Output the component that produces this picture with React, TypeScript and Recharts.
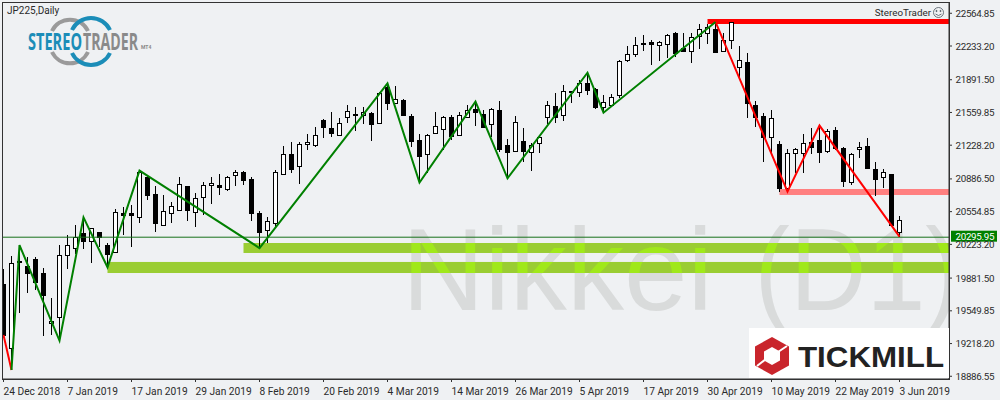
import { Bar, ComposedChart, Line, ReferenceArea, ReferenceLine, XAxis, YAxis } from "recharts";

const opens = [
  19823, 19170, 20058, 20004, 20071, 19930, 19424, 19484, 20113, 20183, 20334, 20254, 20344, 20216, 20143, 20538,
  20538, 20497, 20909, 20730, 20422, 20538, 20568, 20812, 20555, 20700, 20822, 20822, 20781, 20923, 20954, 20883,
  20538, 20366, 20444, 20933, 21136, 21014, 21237, 21234, 21484, 21400, 21335, 21517, 21540, 21530, 21550, 21457,
  21821, 21653, 21686, 21524, 21278, 21143, 21355, 21397, 21514, 21335, 21517, 21595, 21544, 21447, 21582, 21227,
  21174, 21272, 21157, 21247, 21517, 21622, 21530, 21774, 21763, 21861, 21794, 21612, 21638, 21733, 22089, 22149,
  22264, 22275, 22240, 22250, 22362, 22213, 22180, 22335, 22368, 22402, 22187, 22291, 22025, 22072, 21632, 21524,
  21308, 21237, 20792, 21153, 21153, 21257, 21282, 21174, 21380, 21197, 20859, 21187, 21220, 20987, 20903, 20933,
  20345,
];
const highs = [
  19971, 20106, 20216, 20099, 20099, 19981, 19680, 20216, 20314, 20416, 20487, 20386, 20348, 20241, 20578, 20599,
  20622, 20971, 20927, 20816, 20723, 20650, 20906, 20816, 20741, 20856, 20906, 20936, 20916, 20977, 20964, 20909,
  20562, 20497, 20977, 21220, 21261, 21261, 21342, 21413, 21490, 21565, 21500, 21635, 21615, 21615, 21568, 21763,
  21848, 21828, 21693, 21540, 21342, 21342, 21568, 21524, 21534, 21568, 21635, 21653, 21585, 21602, 21673, 21288,
  21524, 21400, 21247, 21322, 21673, 21753, 21838, 21781, 21889, 21956, 21805, 21737, 21747, 22092, 22234, 22322,
  22345, 22295, 22285, 22355, 22372, 22362, 22362, 22456, 22456, 22480, 22362, 22480, 22234, 22160, 21676, 21550,
  21585, 21275, 21187, 21197, 21339, 21403, 21433, 21390, 21410, 21207, 21147, 21265, 21298, 21055, 20984, 20936,
  20511,
];
const lows = [
  19271, 18950, 19532, 19734, 19760, 19298, 19309, 19254, 19978, 20126, 20176, 20038, 20193, 19998, 20139, 20318,
  20200, 20444, 20673, 20345, 20412, 20444, 20558, 20464, 20402, 20521, 20635, 20723, 20768, 20816, 20826, 20464,
  20200, 20234, 20402, 20933, 20951, 20836, 21180, 21214, 21302, 21312, 21332, 21457, 21376, 21443, 21272, 21450,
  21585, 21646, 21530, 21208, 20849, 20943, 21355, 21180, 21282, 21329, 21517, 21427, 21400, 21309, 21164, 20903,
  21164, 21062, 20971, 21147, 21443, 21457, 21477, 21660, 21720, 21737, 21592, 21550, 21618, 21703, 22075, 22125,
  22187, 22042, 22085, 22109, 22125, 22187, 22065, 22200, 22254, 22166, 22177, 22200, 21923, 21507, 21417, 21062,
  21147, 20758, 20758, 20943, 20943, 21140, 21052, 21153, 21180, 20809, 20826, 21096, 20994, 20718, 20792, 20419,
  20301,
];
const closes = [
  19306, 20031, 20045, 19937, 19846, 19714, 19451, 20113, 20213, 20301, 20261, 20386, 20294, 20129, 20548, 20525,
  20525, 20961, 20727, 20444, 20558, 20609, 20832, 20575, 20690, 20822, 20842, 20809, 20903, 20954, 20879, 20545,
  20352, 20457, 20954, 21136, 20991, 21237, 21257, 21329, 21417, 21355, 21450, 21572, 21530, 21568, 21447, 21753,
  21660, 21693, 21534, 21275, 21120, 21335, 21420, 21510, 21322, 21534, 21582, 21568, 21417, 21592, 21194, 21164,
  21460, 21170, 21231, 21309, 21632, 21510, 21774, 21763, 21861, 21788, 21618, 21663, 21713, 22079, 22149, 22240,
  22250, 22257, 22271, 22342, 22166, 22187, 22328, 22402, 22423, 22177, 22295, 22480, 22089, 21660, 21517, 21315,
  21500, 20799, 21147, 21187, 21247, 21214, 21164, 21370, 21197, 20869, 21137, 21207, 21001, 20889, 20953, 20419,
  20467,
];

const greenPivotIndex = [1, 2, 7, 10, 13, 17, 32, 48, 52, 59, 63, 73, 75, 89];
const greenPivotPrice = [18950, 20216, 19248, 20497, 19991, 20971, 20186, 21855, 20849, 21670, 20893, 21963, 21557, 22477];
const redLeadIndex = [0, 1];
const redLeadPrice = [19306, 18950];
const redPivotIndex = [89, 98, 102, 112];
const redPivotPrice = [22477, 20758, 21427, 20301];

const dateTickIndex = [0, 8, 16, 24, 32, 40, 48, 56, 64, 72, 80, 88, 96, 104, 112];
const dateLabels = [
  "24 Dec 2018", "7 Jan 2019", "17 Jan 2019", "29 Jan 2019", "8 Feb 2019", "20 Feb 2019", "4 Mar 2019", "14 Mar 2019",
  "26 Mar 2019", "5 Apr 2019", "17 Apr 2019", "30 Apr 2019", "10 May 2019", "22 May 2019", "3 Jun 2019",
];
const priceTicks = [
  22564.85, 22233.2, 21891.5, 21559.85, 21228.2, 20886.5, 20554.85, 20223.2, 19881.5, 19549.85, 19218.2, 18886.55,
];
const lastPrice = 20295.95;

const pick = (index: number[], price: number[], i: number) => {
  const at = index.indexOf(i);
  return at >= 0 ? price[at] : null;
};

const tableRows = opens.map((open, i) => ({
  i,
  open,
  high: highs[i],
  low: lows[i],
  close: closes[i],
  green: pick(greenPivotIndex, greenPivotPrice, i),
  redLead: pick(redLeadIndex, redLeadPrice, i),
  red: pick(redPivotIndex, redPivotPrice, i),
}));

const xStart = -0.0625;
const xEnd = 118.1875;
const uiFont = "Roboto, 'Liberation Sans', sans-serif";
const inkColor = "#2b2b2b";

const Candle = (props: any) => {
  const { x, y, width, height, payload } = props;
  const { open, close, high, low } = payload;
  const perUnit = height / (high - low);
  const toY = (p: number) => y + (high - p) * perUnit;
  const cx = x + width / 2;
  const bull = close >= open;
  const top = Math.round(toY(Math.max(open, close)));
  const bottom = Math.round(toY(Math.min(open, close)));
  return (
    <g shapeRendering="crispEdges">
      <rect x={cx - 0.5} y={y} width={1} height={Math.max(height, 1)} fill="#000" />
      <rect
        x={cx - 2}
        y={top + 0.5}
        width={4}
        height={Math.max(bottom - top, 1)}
        fill={bull ? "#fff" : "#000"}
        stroke="#000"
        strokeWidth={1}
      />
    </g>
  );
};

const watermark = (fill: string, clip?: string) => (
  <g fill={fill} fontSize={116} fontFamily="'Liberation Sans', sans-serif" clipPath={clip}>
    <text x={402} y={310} textLength={311} lengthAdjust="spacingAndGlyphs">
      Nikkei
    </text>
    <text x={754.600} y={310} textLength={206} lengthAdjust="spacingAndGlyphs">
      (D1)
    </text>
  </g>
);

// zone rectangle, the watermark shows brighter where it crosses the zone
const GreenZone = (props: any) => {
  const { x, y, width, height } = props;
  const id = `zone-${Math.round(y)}`;
  return (
    <g>
      <rect x={x} y={y} width={width} height={height} fill="#9acd32" />
      <clipPath id={id}>
        <rect x={x} y={y} width={width} height={height} />
      </clipPath>
      {watermark("#a0e81a", `url(#${id})`)}
    </g>
  );
};

const DateTick = (props: any) => {
  const { x, y, payload } = props;
  return (
    <text x={x} y={y + 11} fill={inkColor} fontSize={10.2} fontFamily={uiFont} textAnchor="start">
      {dateLabels[dateTickIndex.indexOf(payload.value)]}
    </text>
  );
};

const PriceTick = (props: any) => {
  const { x, y, payload } = props;
  return (
    <text x={955.5} y={y + 3.5} fill={inkColor} fontSize={9.8} letterSpacing={-0.3} fontFamily={uiFont}>
      {payload.value.toFixed(2)}
    </text>
  );
};

const LastPriceLabel = (props: any) => {
  const { viewBox } = props;
  const y = viewBox.y;
  return (
    <g>
      <rect x={951} y={y - 6.500} width={46} height={11} fill="#008000" />
      <text x={955.5} y={y + 2.500} fill="#fff" fontSize={9.8} letterSpacing={-0.3} fontFamily={uiFont}>
        {lastPrice.toFixed(2)}
      </text>
    </g>
  );
};

const StereoLogo = () => (
  <g>
    <path d="M52 31 A20 20 0 0 1 88 31" fill="none" stroke="#9a9a9a" strokeWidth={4} />
    <path d="M52 52 A20 20 0 0 0 88 52" fill="none" stroke="#9a9a9a" strokeWidth={4} />
    <path d="M72 30 A21 21 0 0 1 110 30" fill="none" stroke="#1b8db8" strokeWidth={4} />
    <path d="M72 53 A21 21 0 0 0 110 53" fill="none" stroke="#1b8db8" strokeWidth={4} />
    <text
      x={28}
      y={50}
      fontSize={23}
      fontWeight={700}
      fontFamily="'Open Sans', sans-serif"
      fill="#1b8db8"
      textLength={54}
      lengthAdjust="spacingAndGlyphs"
    >
      STEREO
    </text>
    <text
      x={83}
      y={50}
      fontSize={23}
      fontWeight={700}
      fontFamily="'Open Sans', sans-serif"
      fill="#8a8a8a"
      textLength={55}
      lengthAdjust="spacingAndGlyphs"
    >
      TRADER
    </text>
    <text x={141} y={49} fontSize={5} fontWeight={700} fontFamily={uiFont} fill="#8a8a8a">
      MT4
    </text>
  </g>
);

const TickmillLogo = () => (
  <g>
    <rect x={749} y={328} width={200} height={50} fill="#fff" />
    <path d="M772 337 L789 346.500 L789 365.500 L772 375 L755 365.500 L755 346.500 Z" fill="#c9252c" />
    <path d="M772 347 L780 351.500 L780 360.500 L772 365 L764 360.500 L764 351.500 Z" fill="#fff" />
    <path d="M757 366 L766 359 M778 352 L787 346" stroke="#fff" strokeWidth={2} />
    <text
      x={798}
      y={367}
      fontSize={30}
      fontWeight={700}
      fontFamily="'Liberation Sans', sans-serif"
      fill="#222"
      textLength={146}
      lengthAdjust="spacingAndGlyphs"
    >
      TICKMILL
    </text>
  </g>
);

const Smiley = () => (
  <g fill="none" stroke="#4a5560" strokeWidth={0.8}>
    <circle cx={938.500} cy={12.500} r={5} />
    <circle cx={936.500} cy={11} r={0.6} fill="#4a5560" />
    <circle cx={940.500} cy={11} r={0.6} fill="#4a5560" />
    <path d="M935.500 14 Q938.500 17 941.500 14" />
  </g>
);

export default function App() {
  return (
    <div style={{ position: "absolute", left: 0, top: 0, width: 1000, height: 400, background: "#eff1f3", overflow: "hidden" }}>
      <svg width={1000} height={400} style={{ position: "absolute", left: 0, top: 0 }}>
        <clipPath id="plot-clip">
          <rect x={3} y={3} width={946} height={376} />
        </clipPath>
        {watermark("#d9dbdb", "url(#plot-clip)")}
        <rect x={2.5} y={2.5} width={947} height={377} fill="none" stroke="#333" strokeWidth={1} />
      </svg>
      <div style={{ position: "absolute", left: 0, top: 0 }}>
        <ComposedChart width={1000} height={400} data={tableRows} margin={{ top: 3, right: 0, bottom: 0, left: 3 }}>
          <XAxis
            type="number"
            dataKey="i"
            domain={[xStart, xEnd]}
            allowDataOverflow
            ticks={dateTickIndex}
            interval={0}
            height={21}
            tickSize={3}
            stroke="#333"
            tick={<DateTick />}
          />
          <YAxis
            orientation="right"
            type="number"
            domain={[18859, 22669]}
            allowDataOverflow
            ticks={priceTicks}
            interval={0}
            width={51}
            tickSize={3}
            stroke="#333"
            tick={<PriceTick />}
          />
          <ReferenceArea x1={88} x2={xEnd} y1={22456} y2={22507} fill="#ff0000" fillOpacity={1} stroke="none" />
          <ReferenceArea x1={97} x2={xEnd} y1={20724} y2={20785} fill="#ff8080" fillOpacity={1} stroke="none" />
          <ReferenceArea x1={30} x2={xEnd} y1={20136} y2={20237} shape={<GreenZone />} />
          <ReferenceArea x1={13} x2={xEnd} y1={19933} y2={20045} shape={<GreenZone />} />
          <ReferenceLine y={lastPrice} stroke="#17701a" strokeWidth={1} label={<LastPriceLabel />} />
          <Bar dataKey={(d: any) => [d.low, d.high]} barSize={5} shape={<Candle />} isAnimationActive={false} />
          <Line dataKey="redLead" stroke="#ff0000" strokeWidth={2} dot={false} connectNulls type="linear" isAnimationActive={false} />
          <Line dataKey="red" stroke="#ff0000" strokeWidth={2} dot={false} connectNulls type="linear" isAnimationActive={false} />
          <Line dataKey="green" stroke="#008000" strokeWidth={2} dot={false} connectNulls type="linear" isAnimationActive={false} />
        </ComposedChart>
      </div>
      <svg width={1000} height={400} style={{ position: "absolute", left: 0, top: 0, pointerEvents: "none" }}>
        <text x={7} y={13.500} fontSize={10} fontFamily={uiFont} fill={inkColor}>
          JP225,Daily
        </text>
        <text x={931} y={15.500} fontSize={9.800} fontFamily={uiFont} fill={inkColor} textAnchor="end">
          StereoTrader
        </text>
        <Smiley />
        <StereoLogo />
        <TickmillLogo />
      </svg>
    </div>
  );
}
